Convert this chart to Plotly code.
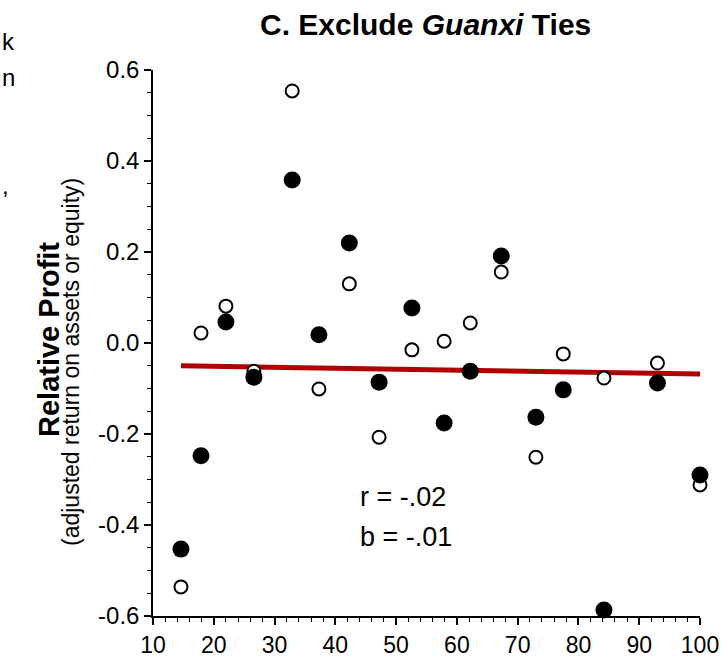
import plotly.graph_objects as go

# Data
x_vals = [14.6, 17.9, 22.0, 26.6, 32.9, 37.3, 42.3, 47.2, 52.6, 57.9, 62.2, 67.3, 73.0, 77.5, 84.2, 93.0, 100.0]
filled_y = [-0.453, -0.248, 0.046, -0.075, 0.358, 0.018, 0.220, -0.086, 0.077, -0.176, -0.062, 0.191, -0.163, -0.103, -0.587, -0.088, -0.290]
open_y = [-0.536, 0.022, 0.081, -0.062, 0.554, -0.101, 0.130, -0.207, -0.015, 0.004, 0.044, 0.156, -0.251, -0.024, -0.077, -0.044, -0.312]
fit_x = [14.6, 100.0]
fit_y = [-0.050, -0.068]
x_ticks = [10, 20, 30, 40, 50, 60, 70, 80, 90, 100]
y_ticks = [0.6, 0.4, 0.2, 0.0, -0.2, -0.4, -0.6]
y_ticktext = ["0.6", "0.4", "0.2", "0.0", "-0.2", "-0.4", "-0.6"]

W, H = 721, 657
L, R, T, B = 153, 21, 70, 41
PW, PH = W - L - R, H - T - B

def px(p):
    return (p - L) / PW

def py(p):
    return (H - B - p) / PH

FONT = "Arial, Liberation Sans, sans-serif"

fig = go.Figure()
fig.add_trace(go.Scatter(x=fit_x, y=fit_y, mode="lines",
                         line=dict(color="#b00000", width=5), showlegend=False, hoverinfo="skip"))
fig.add_trace(go.Scatter(x=x_vals, y=open_y, mode="markers", cliponaxis=False,
                         marker=dict(size=13, color="white", line=dict(color="black", width=2)),
                         showlegend=False))
fig.add_trace(go.Scatter(x=x_vals, y=filled_y, mode="markers", cliponaxis=False,
                         marker=dict(size=17, color="black", line=dict(width=0)),
                         showlegend=False))

fig.update_layout(
    width=W, height=H,
    margin=dict(l=L, r=R, t=T, b=B, autoexpand=False),
    paper_bgcolor="white", plot_bgcolor="white",
    font=dict(family=FONT, color="black"),
    showlegend=False,
)
fig.update_xaxes(range=[10, 100], tickvals=x_ticks, ticks="outside", ticklen=7, tickwidth=1.5,
                 tickcolor="black", showline=True, linecolor="black", linewidth=1.5, automargin=False,
                 ticklabelstandoff=1,
                 showgrid=False, zeroline=False, tickfont=dict(size=23, family=FONT, color="black"),
                 minor=dict(dtick=2, ticks="outside", ticklen=4, tickcolor="black", tickwidth=1, showgrid=False))
fig.update_yaxes(range=[-0.6, 0.6], tickvals=y_ticks, ticktext=y_ticktext, ticks="outside", ticklen=7,
                 tickwidth=1.5, tickcolor="black", showline=True, linecolor="black", linewidth=1.5,
                 automargin=False,
                 showgrid=False, zeroline=False, tickfont=dict(size=24, family=FONT, color="black"),
                 minor=dict(dtick=0.05, ticks="outside", ticklen=4, tickcolor="black", tickwidth=1, showgrid=False))

ann = []
# Title
ann.append(dict(text="<b>C. Exclude <i>Guanxi</i> Ties</b>", xref="paper", yref="paper",
                x=px(425), y=py(24), xanchor="center", yanchor="middle", showarrow=False,
                font=dict(size=30, family=FONT, color="black")))
# Y titles
ann.append(dict(text="<b>Relative Profit</b>", xref="paper", yref="paper", textangle=-90,
                x=px(49), y=py(340), xanchor="center", yanchor="middle", showarrow=False,
                font=dict(size=29, family=FONT, color="black")))
ann.append(dict(text="(adjusted return on assets or equity)", xref="paper", yref="paper", textangle=-90,
                x=px(71), y=py(362), xanchor="center", yanchor="middle", showarrow=False,
                font=dict(size=23, family=FONT, color="black")))
# Stats
ann.append(dict(text="r = -.02", xref="paper", yref="paper", x=px(358), y=py(497),
                xanchor="left", yanchor="middle", showarrow=False,
                font=dict(size=27, family=FONT, color="black")))
ann.append(dict(text="b = -.01", xref="paper", yref="paper", x=px(358), y=py(537),
                xanchor="left", yanchor="middle", showarrow=False,
                font=dict(size=27, family=FONT, color="black")))
# Fragments of the neighbouring panel at the left edge
for t, yy in [("k", 42), ("n", 78), (",", 185)]:
    ann.append(dict(text=t, xref="paper", yref="paper", x=px(0), y=py(yy),
                    xanchor="left", yanchor="middle", showarrow=False,
                    font=dict(size=24, family=FONT, color="black")))
fig.update_layout(annotations=ann)

fig.write_html("out.html")
